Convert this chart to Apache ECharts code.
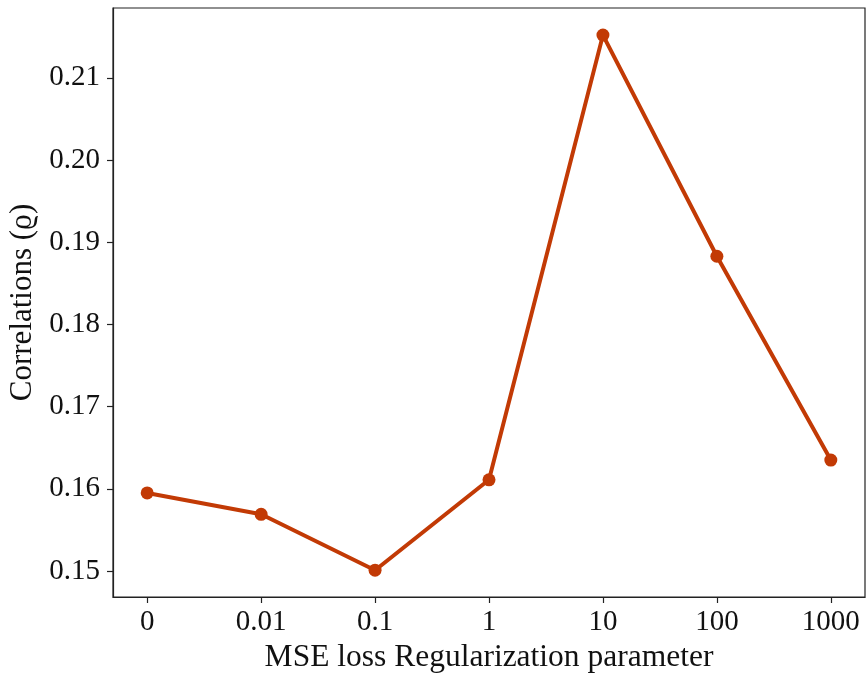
<!DOCTYPE html>
<html>
<head>
<meta charset="utf-8">
<script src="https://cdn.jsdelivr.net/npm/echarts@6/dist/echarts.min.js"></script>
<style>
html, body { margin: 0; padding: 0; background: #ffffff; }
#chart { width: 866px; height: 675px; }
</style>
</head>
<body>
<div id="chart"></div>
<script>
// Regularization strengths (shown as category labels on an evenly spaced axis)
const regParams = ['0', '0.01', '0.1', '1', '10', '100', '1000'];
// Correlation values for each regularization strength
const correlations = [0.1595, 0.1569, 0.1501, 0.1611, 0.2152, 0.1883, 0.1635];
// Y tick values
const yTicks = [0.15, 0.16, 0.17, 0.18, 0.19, 0.20, 0.21];

const FONT = '"Liberation Serif", "DejaVu Serif", serif';
const xIdx = regParams.map((_, i) => i);

const chart = echarts.init(document.getElementById('chart'), null, { renderer: 'canvas' });
chart.setOption({
  animation: false,
  backgroundColor: '#ffffff',
  grid: {
    left: 113, right: 1, top: 8, bottom: 78,
    containLabel: false, outerBoundsMode: 'none',
    show: true, borderColor: '#222', borderWidth: 1.2, backgroundColor: 'transparent'
  },
  xAxis: {
    type: 'value',
    min: -0.3,
    max: 6.3,
    name: 'MSE loss Regularization parameter',
    nameLocation: 'middle',
    nameGap: 45,
    nameTextStyle: { fontFamily: FONT, fontSize: 31.5, color: '#111' },
    axisLine: { show: true, onZero: false, lineStyle: { color: '#222', width: 1.2 } },
    axisTick: { show: true, length: 6, customValues: xIdx, lineStyle: { color: '#222', width: 1.2 } },
    axisLabel: {
      customValues: xIdx,
      margin: 11,
      fontFamily: FONT, fontSize: 29, color: '#111',
      formatter: v => regParams[Math.round(v)]
    },
    splitLine: { show: false }
  },
  yAxis: {
    type: 'value',
    min: 0.14684,
    max: 0.2185,
    name: 'Correlations (ϱ)',
    nameLocation: 'middle',
    nameGap: 72,
    nameRotate: 90,
    nameTextStyle: { fontFamily: FONT, fontSize: 31, color: '#111' },
    axisLine: { show: true, onZero: false, lineStyle: { color: '#222', width: 1.2 } },
    axisTick: { show: true, length: 6, customValues: yTicks, lineStyle: { color: '#222', width: 1.2 } },
    axisLabel: {
      customValues: yTicks,
      margin: 13,
      fontFamily: FONT, fontSize: 29, color: '#111',
      formatter: v => v.toFixed(2)
    },
    splitLine: { show: false }
  },
  series: [{
    type: 'line',
    data: correlations.map((c, i) => [xIdx[i], c]),
    symbol: 'circle',
    symbolSize: 13,
    lineStyle: { color: '#c23a05', width: 4 },
    itemStyle: { color: '#c23a05' }
  }]
});
</script>
</body>
</html>
